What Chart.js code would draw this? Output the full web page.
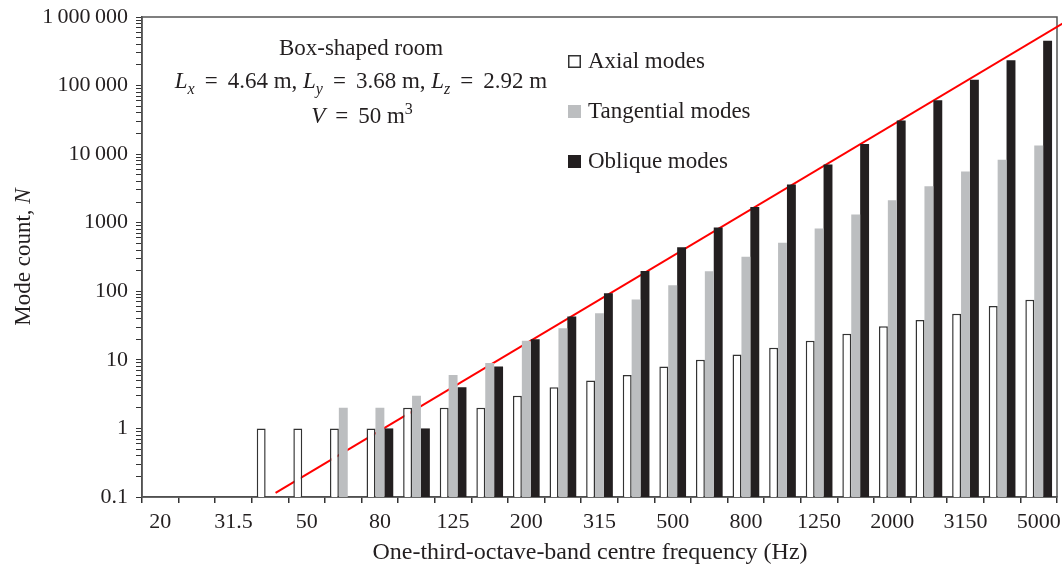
<!DOCTYPE html>
<html lang="en">
<head>
    <meta charset="UTF-8">
    <title>Mode count per one-third-octave band</title>
    <style>
        body {
            margin: 0;
            background-color: #fff;
        }
        canvas {
            display: block;
        }
    </style>
</head>
<body>
    <canvas id="modeChart" width="1062" height="567"></canvas>

    <script src="https://cdn.jsdelivr.net/npm/chart.js"></script>
    <script>
        // One-third-octave band centre frequencies (Hz)
        const bands = ['20', '25', '31.5', '40', '50', '63', '80', '100', '125', '160', '200', '250',
            '315', '400', '500', '630', '800', '1000', '1250', '1600', '2000', '2500', '3150', '4000', '5000'];

        // Mode counts (null = no bar)
        const axial = [null, null, null, 1, 1, 1, 1, 2, 2, 2, 3, 4, 5, 6, 8, 10, 12, 15, 19, 24, 31, 38, 47, 61, 75];
        const tangential = [null, null, null, null, null, 2, 2, 3, 6, 9, 19, 29, 48, 76, 122, 196, 318, 510, 825,
            1320, 2130, 3400, 5560, 8260, 13400];
        const oblique = [null, null, null, null, null, null, 1, 1, 4, 8, 20, 43, 94, 197, 437, 853, 1700, 3600, 7050,
            14000, 31000, 61000, 122000, 235000, 450000];

        // Red trend line: band position (0 = 20 Hz) and mode count at its two ends
        const lineBand = [3.15, 24.65];
        const lineCount = [0.115, 800000];

        // Y axis decades and their labels
        const yDecades = [0.1, 1, 10, 100, 1000, 10000, 100000, 1000000];
        const yTickLabels = ['0.1', '1', '10', '100', '1000', '10\u2009000', '100\u2009000', '1\u2009000\u2009000'];

        // Text inside the plot
        const roomTitle = 'Box-shaped room';
        const roomDims = [['L', 'x', '4.64'], ['L', 'y', '3.68'], ['L', 'z', '2.92']];
        const roomVolume = '50';

        const ink = '#231f20';
        const serif = '"Liberation Serif", "DejaVu Serif", serif';

        // minor ticks 1..9 per decade
        const yTickValues = [];
        yDecades.forEach(function (d, i) {
            if (i === yDecades.length - 1) { yTickValues.push(d); return; }
            for (let k = 1; k <= 9; k++) yTickValues.push(d * k);
        });

        // draw a line made of pieces with different styles, centred on cx
        function drawRuns(ctx, runs, cx, baseline, size) {
            let total = 0;
            runs.forEach(function (r) {
                r.font = (r.italic ? 'italic ' : '') + (r.sub || r.sup ? Math.round(size * 0.68) : size) + 'px ' + serif;
                ctx.font = r.font;
                r.w = r.gap !== undefined ? r.gap : ctx.measureText(r.t).width;
                total += r.w;
            });
            let x = cx - total / 2;
            ctx.textAlign = 'left';
            ctx.textBaseline = 'alphabetic';
            runs.forEach(function (r) {
                if (r.gap === undefined) {
                    ctx.font = r.font;
                    let dy = r.sub ? size * 0.25 : (r.sup ? -size * 0.4 : 0);
                    ctx.fillText(r.t, x, baseline + dy);
                }
                x += r.w;
            });
        }

        // "=" with math spacing
        function equals() {
            return [{ gap: 10 }, { t: '=' }, { gap: 10 }];
        }

        const decorations = {
            id: 'decorations',
            beforeDatasetsDraw(chart) {
                const ctx = chart.ctx;
                const a = chart.chartArea;
                ctx.save();
                ctx.strokeStyle = '#555';
                ctx.lineWidth = 1.5;
                ctx.strokeRect(a.left, a.top, a.right - a.left, a.bottom - a.top);
                ctx.restore();
            },
            afterDraw(chart) {
                const ctx = chart.ctx;
                ctx.save();
                ctx.fillStyle = ink;

                // room description
                drawRuns(ctx, [{ t: roomTitle }], 361, 55, 23);
                let runs = [];
                roomDims.forEach(function (d, i) {
                    runs.push({ t: d[0], italic: true });
                    runs.push({ t: d[1], italic: true, sub: true });
                    runs = runs.concat(equals());
                    runs.push({ t: d[2] + ' m' + (i < roomDims.length - 1 ? ', ' : '') });
                });
                drawRuns(ctx, runs, 361, 88, 23);
                drawRuns(ctx, [{ t: 'V', italic: true }].concat(equals(), [{ t: roomVolume + ' m' }, { t: '3', sup: true }]), 362, 123, 23);

                // legend
                chart.data.datasets.slice(0, 3).forEach(function (ds, i) {
                    const y = 55 + i * 50;
                    ctx.fillStyle = ds.backgroundColor;
                    ctx.fillRect(568, y, 13, 13);
                    if (ds.borderWidth) {
                        ctx.strokeStyle = ds.borderColor;
                        ctx.lineWidth = 1.5;
                        ctx.strokeRect(568.75, y + 0.75, 11.5, 11.5);
                    }
                    ctx.fillStyle = ink;
                    ctx.font = '23px ' + serif;
                    ctx.textAlign = 'left';
                    ctx.textBaseline = 'alphabetic';
                    ctx.fillText(ds.label, 588, y + 13);
                });

                // axis titles
                drawRuns(ctx, [{ t: 'One-third-octave-band centre frequency (Hz)' }], 590, 559, 24);
                ctx.translate(30, 257);
                ctx.rotate(-Math.PI / 2);
                drawRuns(ctx, [{ t: 'Mode count, ' }, { t: 'N', italic: true }], 0, 0, 23);
                ctx.restore();
            }
        };

        const tickFont = { family: serif, size: 22 };

        const chart = new Chart(document.getElementById('modeChart'), {
            type: 'bar',
            data: {
                labels: bands,
                datasets: [
                    { label: 'Axial modes', data: axial, backgroundColor: '#ffffff', borderColor: '#333', borderWidth: 1.5 },
                    { label: 'Tangential modes', data: tangential, backgroundColor: '#bcbec0', borderWidth: 0 },
                    { label: 'Oblique modes', data: oblique, backgroundColor: ink, borderWidth: 0 },
                    {
                        type: 'line',
                        label: 'trend',
                        // fractional band positions on the category axis
                        parsing: false,
                        data: lineBand.map(function (b, i) { return { x: b, y: lineCount[i] }; }),
                        borderColor: '#ff0000',
                        borderWidth: 2,
                        pointRadius: 0,
                        clip: false
                    }
                ]
            },
            options: {
                responsive: false,
                animation: false,
                datasets: { bar: { categoryPercentage: 0.73, barPercentage: 1 } },
                layout: { padding: { top: 17, right: 5, left: 0, bottom: 0 } },
                plugins: { legend: { display: false }, tooltip: { enabled: false } },
                scales: {
                    x: {
                        type: 'category',
                        offset: true,
                        grid: { offset: true, drawOnChartArea: false, tickLength: 6, color: '#333', lineWidth: 1.5 },
                        border: { color: '#444', width: 1.5 },
                        ticks: {
                            autoSkip: false,
                            maxRotation: 0,
                            padding: 6,
                            color: ink,
                            font: tickFont,
                            callback: function (v, i) { return i % 2 === 0 ? bands[i] : ''; }
                        },
                        afterFit: function (s) { s.height = 70; s.paddingLeft = 0; s.paddingRight = 0; }
                    },
                    y: {
                        type: 'logarithmic',
                        min: 0.1,
                        max: 1000000,
                        afterBuildTicks: function (s) { s.ticks = yTickValues.map(function (v) { return { value: v }; }); },
                        grid: { drawOnChartArea: false, tickLength: 6, color: '#333' },
                        border: { color: '#444', width: 1.5 },
                        ticks: {
                            autoSkip: false,
                            padding: 8,
                            color: ink,
                            font: tickFont,
                            callback: function (v) {
                                const i = yDecades.indexOf(v);
                                return i >= 0 ? yTickLabels[i] : '';
                            }
                        },
                        afterFit: function (s) { s.width = 142; s.paddingTop = 0; s.paddingBottom = 0; }
                    }
                }
            },
            plugins: [decorations]
        });
    </script>
</body>
</html>
